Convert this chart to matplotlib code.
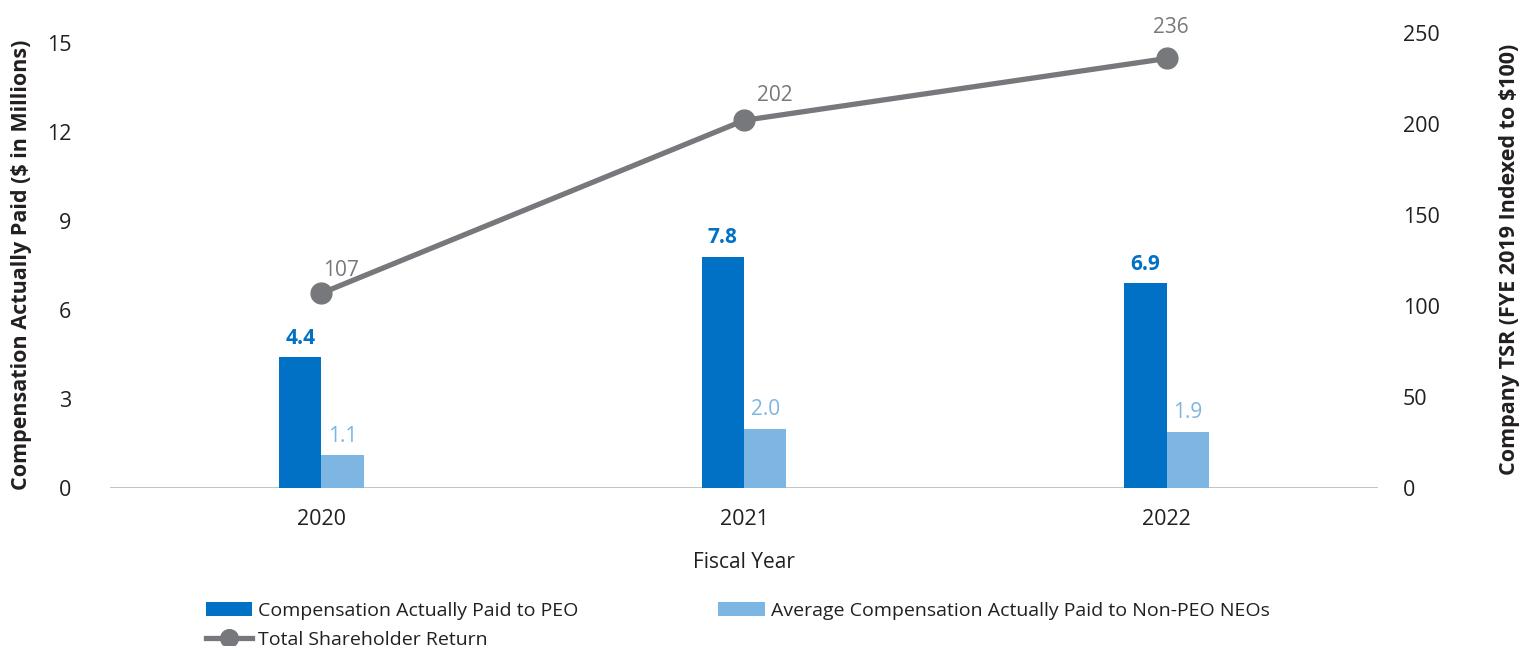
import matplotlib
matplotlib.use("Agg")
import matplotlib.pyplot as plt
import numpy as np

# Data
years = ["2020", "2021", "2022"]
peo_cap = [4.4, 7.8, 6.9]
neo_cap = [1.1, 2.0, 1.9]
tsr = [107, 202, 236]

PEO_COLOR = "#0071C5"
NEO_COLOR = "#7DB6E2"
TSR_COLOR = "#77787B"
TEXT_COLOR = "#231F20"

plt.rcParams["font.family"] = ["Open Sans", "DejaVu Sans"]

fig = plt.figure(figsize=(15.22, 6.46), dpi=100)
W, H = 1522, 646
ax = fig.add_axes([110 / W, 1 - 488 / H, (1378 - 110) / W, (488 - 33) / H])
ax2 = ax.twinx()

x = np.arange(len(years))
bw = 0.1

b1 = ax.bar(x - bw / 2, peo_cap, width=bw, color=PEO_COLOR,
            label="Compensation Actually Paid to PEO", zorder=2)
b2 = ax.bar(x + bw / 2, neo_cap, width=bw, color=NEO_COLOR,
            label="Average Compensation Actually Paid to Non-PEO NEOs", zorder=2)

for rect, v in zip(b1, peo_cap):
    ax.annotate(f"{v:.1f}", (rect.get_x() + rect.get_width() / 2, v),
                xytext=(0, 6), textcoords="offset points", ha="center", va="bottom",
                color=PEO_COLOR, fontsize=15, fontweight="bold")
for rect, v in zip(b2, neo_cap):
    ax.annotate(f"{v:.1f}", (rect.get_x() + rect.get_width() / 2, v),
                xytext=(0, 6), textcoords="offset points", ha="center", va="bottom",
                color=NEO_COLOR, fontsize=15)

ln, = ax2.plot(x, tsr, color=TSR_COLOR, linewidth=3.8, marker="o", markersize=15,
               label="Total Shareholder Return", zorder=3)
tsr_offsets = [(14, 9), (22, 10), (3, 15)]
for xi, v, off in zip(x, tsr, tsr_offsets):
    ax2.annotate(f"{v}", (xi, v), xytext=off, textcoords="offset points",
                 ha="center", va="bottom", color=TSR_COLOR, fontsize=15)

ax.set_xlim(-0.5, 2.5)
ax.set_ylim(0, 15 * 455 / 445)
ax.set_yticks([0, 3, 6, 9, 12, 15])
ax2.set_ylim(0, 250)
ax2.set_yticks([0, 50, 100, 150, 200, 250])

ax.set_xticks(x)
ax.set_xticklabels(years)

for a in (ax, ax2):
    for s in a.spines.values():
        s.set_visible(False)
    a.tick_params(length=0, labelsize=15.5, colors=TEXT_COLOR)
ax.tick_params(axis="y", pad=28)
ax2.tick_params(axis="y", pad=18)
ax.tick_params(axis="x", pad=15)
ax.axhline(0, color="#BDBDBD", linewidth=2, zorder=1)

ax.set_xlabel("Fiscal Year", fontsize=15, color=TEXT_COLOR)
ax.xaxis.set_label_coords(0.5, -(563 - 488) / 455, transform=ax.transAxes)
ax.set_ylabel("Compensation Actually Paid ($ in Millions)", fontsize=15.5,
              fontweight="bold", color=TEXT_COLOR)
ax.yaxis.set_label_coords((22 - 110) / 1268, (488 - 265) / 455)
ax2.set_ylabel("Company TSR (FYE 2019 Indexed to $100)", fontsize=15.5,
               fontweight="bold", color=TEXT_COLOR)
ax2.yaxis.set_label_coords((1510 - 110) / 1268, (488 - 259) / 455)
ax.xaxis.label.set_va("center")
ax.yaxis.label.set_va("center")
ax2.yaxis.label.set_va("center")

fig.legend(handles=[b1, ln, b2], loc="upper left",
           bbox_to_anchor=(192 / W, 1 - 588 / H), ncol=2, frameon=False,
           fontsize=14, handlelength=2.4, handleheight=0.8, columnspacing=7.2,
           labelspacing=0.55, handletextpad=0.3, labelcolor=TEXT_COLOR,
           borderpad=0.2, markerscale=0.85)

fig.savefig("out.png", dpi=100, facecolor="white")
